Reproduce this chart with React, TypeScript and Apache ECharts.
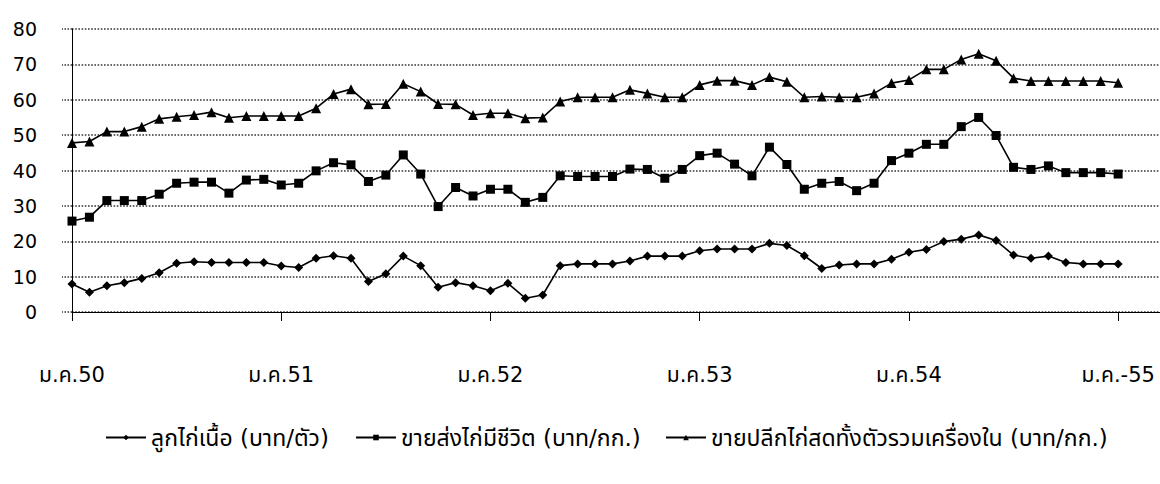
import React, { useEffect, useRef } from "react";
import * as echarts from "echarts";

const yearLabels = ["ม.ค.50", "ม.ค.51", "ม.ค.52", "ม.ค.53", "ม.ค.54", "ม.ค.-55"];
const seriesNames = [
  "ลูกไก่เนื้อ (บาท/ตัว)",
  "ขายส่งไก่มีชีวิต (บาท/กก.)",
  "ขายปลีกไก่สดทั้งตัวรวมเครื่องใน (บาท/กก.)",
];
const chickPrice = [
  7.9, 5.6, 7.4, 8.3, 9.5, 11.1, 13.8, 14.2, 14, 14,
  14, 14, 13, 12.6, 15.2, 15.9, 15.2, 8.6, 10.8, 15.8,
  13.1, 7, 8.3, 7.4, 6, 8.1, 3.9, 4.8, 13.1, 13.6,
  13.6, 13.6, 14.4, 15.8, 15.8, 15.8, 17.3, 17.8, 17.8, 17.8,
  19.4, 18.8, 15.9, 12.3, 13.3, 13.6, 13.6, 14.9, 16.9, 17.7,
  19.9, 20.6, 21.8, 20.2, 16.1, 15.2, 15.8, 14, 13.6, 13.6, 13.6,
];
const wholesaleLive = [
  25.7, 26.8, 31.5, 31.5, 31.5, 33.3, 36.4, 36.7, 36.7, 33.6,
  37.3, 37.5, 35.9, 36.4, 39.9, 42.2, 41.6, 36.9, 38.7, 44.4,
  39, 29.8, 35.2, 32.8, 34.7, 34.7, 31, 32.4, 38.5, 38.3,
  38.3, 38.3, 40.4, 40.3, 37.8, 40.3, 44.2, 44.9, 41.8, 38.5,
  46.6, 41.7, 34.7, 36.4, 36.9, 34.3, 36.4, 42.8, 44.9, 47.4,
  47.4, 52.4, 55, 49.9, 40.9, 40.3, 41.3, 39.4, 39.4, 39.4, 39,
];
const retailWhole = [
  47.8, 48.2, 51, 51, 52.4, 54.6, 55.2, 55.7, 56.5, 54.9,
  55.4, 55.4, 55.4, 55.4, 57.6, 61.6, 63, 58.7, 58.8, 64.5,
  62.3, 58.8, 58.7, 55.7, 56.2, 56.2, 54.8, 55, 59.5, 60.7,
  60.7, 60.7, 62.8, 61.8, 60.7, 60.7, 64.2, 65.4, 65.4, 64.2,
  66.4, 65.1, 60.7, 60.9, 60.7, 60.7, 61.8, 64.7, 65.6, 68.6,
  68.6, 71.4, 73, 71, 66.1, 65.3, 65.3, 65.3, 65.3, 65.3, 64.8,
];

const FONT = "Tahoma, 'DejaVu Sans', 'Noto Sans Thai', 'Noto Sans', sans-serif";
const legendLefts = [100, 350, 660];

export default function App() {
  const ref = useRef<HTMLDivElement>(null);
  useEffect(() => {
    if (!ref.current) return;
    const chart = echarts.init(ref.current, null, { renderer: "svg" });
    const toPairs = (arr: number[]) => arr.map((v, i) => [i, v]);
    const mk = (name: string, data: number[], symbol: string, size: number) => ({
      name,
      type: "line",
      data: toPairs(data),
      symbol,
      symbolSize: size,
      showAllSymbol: true,
      lineStyle: { color: "#000", width: 1.6 },
      itemStyle: { color: "#000" },
    });
    chart.setOption({
      animation: false,
      backgroundColor: "#fff",
      textStyle: { fontFamily: FONT },
      grid: { left: 72, right: 0, top: 29, bottom: 172 },
      xAxis: {
        type: "value",
        min: 0,
        max: 62.4,
        interval: 12,
        axisLine: { show: true, onZero: false, lineStyle: { color: "#000", width: 1.2 } },
        axisTick: { show: true, length: 9, lineStyle: { color: "#000" } },
        splitLine: { show: false },
        axisLabel: {
          margin: 52,
          fontSize: 21,
          color: "#000",
          fontFamily: FONT,
          showMaxLabel: false,
          formatter: (v: number) => (v % 12 === 0 ? yearLabels[v / 12] ?? "" : ""),
        },
      },
      yAxis: {
        type: "value",
        min: 0,
        max: 80,
        interval: 10,
        axisLine: { show: true, lineStyle: { color: "#000", width: 1 } },
        axisTick: { show: true, length: 10, lineStyle: { color: "#333", type: "dotted", width: 1.5 } },
        splitLine: { show: true, lineStyle: { color: "#333", type: "dotted", width: 1.6 } },
        axisLabel: { margin: 35, fontSize: 19, color: "#000", fontFamily: FONT },
      },
      legend: seriesNames.map((n, i) => ({
        bottom: 30,
        left: legendLefts[i],
        itemWidth: 40,
        itemHeight: 7,
        textStyle: { fontSize: 23, color: "#000", fontFamily: FONT },
        data: [n],
      })),
      series: [
        mk(seriesNames[0], chickPrice, "diamond", 9),
        mk(seriesNames[1], wholesaleLive, "rect", 9),
        mk(seriesNames[2], retailWhole, "triangle", 10),
      ],
    });
    return () => chart.dispose();
  }, []);
  return (
    <div
      ref={ref}
      style={{ position: "fixed", left: 0, top: 0, width: 1160, height: 484, background: "#fff" }}
    />
  );
}
